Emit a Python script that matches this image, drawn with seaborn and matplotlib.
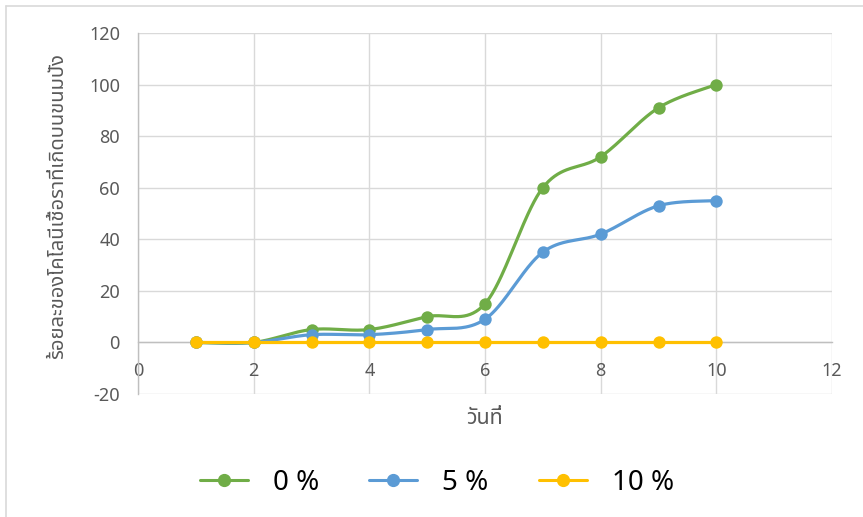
import numpy as np
import pandas as pd
import matplotlib
matplotlib.use("Agg")
import matplotlib.pyplot as plt
import seaborn as sns
from matplotlib import font_manager
from matplotlib.ft2font import FT2Font
from matplotlib.lines import Line2D

# ---- data -------------------------------------------------------------
days = [1, 2, 3, 4, 5, 6, 7, 8, 9, 10]
pct_0 = [0, 0, 5, 5, 10, 15, 60, 72, 91, 100]
pct_5 = [0, 0, 3, 3, 5, 9, 35, 42, 53, 55]
pct_10 = [0, 0, 0, 0, 0, 0, 0, 0, 0, 0]
series_labels = ["0 %", "5 %", "10 %"]
series_colors = ["#70AD47", "#5B9BD5", "#FFC000"]
x_ticks = [0, 2, 4, 6, 8, 10, 12]
y_ticks = [-20, 0, 20, 40, 60, 80, 100, 120]
y_title = "ร้อยละของโคโลนีเชื้อราที่เกิดบนขนมปัง"
x_title = "วันที่"


def thai_family():
    """Return the name of an installed family that has Thai glyphs."""
    preferred = ["Noto Sans Thai", "Noto Sans Thai UI", "Leelawadee UI", "Tahoma",
                 "Loma", "Garuda", "Waree", "Sawasdee", "Umpush", "Kinnari", "Norasi"]
    found = {}
    for f in font_manager.fontManager.ttflist:
        if f.name in found:
            continue
        try:
            if FT2Font(f.fname).get_char_index(0x0E27):
                found[f.name] = True
        except Exception:
            pass
    for name in preferred:
        if name in found:
            return name
    return next(iter(found), "DejaVu Sans")


def smooth_curve(xs, ys, n=40):
    """Cubic Bezier smoothing through every point (spreadsheet style)."""
    p = np.column_stack([xs, ys]).astype(float)
    ext = np.vstack([p[0], p, p[-1]])
    t = np.linspace(0, 1, n)[:, None]
    parts = []
    for i in range(len(p) - 1):
        p0, p1, p2, p3 = ext[i], ext[i + 1], ext[i + 2], ext[i + 3]
        c1 = p1 + (p2 - p0) / 6.0
        c2 = p2 - (p3 - p1) / 6.0
        seg = (1 - t) ** 3 * p1 + 3 * (1 - t) ** 2 * t * c1 + 3 * (1 - t) * t ** 2 * c2 + t ** 3 * p2
        parts.append(seg if i == 0 else seg[1:])
    return np.vstack(parts)


sns.set_style("white")
num_font = "Noto Sans"
thai_font = thai_family()
plt.rcParams["font.family"] = [num_font, thai_font, "DejaVu Sans"]
plt.rcParams["axes.unicode_minus"] = False

W, H = 863, 517
fig = plt.figure(figsize=(W / 100, H / 100), dpi=100)
ax = fig.add_axes([138 / W, 1 - 394 / H, (832 - 138) / W, (394 - 33) / H])

df = pd.DataFrame({
    "day": days * 3,
    "value": pct_0 + pct_5 + pct_10,
    "series": [series_labels[0]] * len(days) + [series_labels[1]] * len(days) + [series_labels[2]] * len(days),
})

for k, (label, color) in enumerate(zip(series_labels, series_colors)):
    sub = df[df["series"] == label]
    curve = smooth_curve(sub["day"].values, sub["value"].values)
    sns.lineplot(x=curve[:, 0], y=curve[:, 1], sort=False, estimator=None,
                 color=color, linewidth=2.3, ax=ax, zorder=3 + k * 2)
    sns.scatterplot(data=sub, x="day", y="value", color=color, s=80,
                    edgecolor=color, linewidth=0, ax=ax, zorder=4 + k * 2, legend=False)

ax.set_xlim(0, 12)
ax.set_ylim(-20, 120)
ax.set_xticks(x_ticks)
ax.set_yticks(y_ticks)
ax.set_xlabel("")
ax.set_ylabel("")
ax.grid(True, color="#D9D9D9", linewidth=1.0, zorder=0)
ax.set_axisbelow(True)
for side in ("top", "right"):
    ax.spines[side].set_visible(False)
ax.spines["left"].set_color("#BFBFBF")
ax.spines["left"].set_linewidth(1.0)
ax.spines["bottom"].set_position(("data", 0))
ax.spines["bottom"].set_color("#BFBFBF")
ax.spines["bottom"].set_linewidth(1.0)
ax.spines["bottom"].set_zorder(2)
ax.tick_params(axis="both", length=0, labelsize=13, labelcolor="#595959")
ax.tick_params(axis="y", pad=13)
ax.tick_params(axis="x", pad=14)

fig.text(58 / W, 1 - 206 / H, y_title, rotation=90, ha="center", va="center",
         fontsize=14.5, color="#595959", family=[thai_font, "DejaVu Sans"])
fig.text(485 / W, 1 - 418 / H, x_title, ha="center", va="center",
         fontsize=15.5, color="#595959", family=[thai_font, "DejaVu Sans"])

handles = [Line2D([0], [0], color=c, linewidth=2.2, marker="o", markersize=8.5)
           for c in series_colors]
fig.legend(handles, series_labels, loc="center", bbox_to_anchor=(437 / W, 1 - 483 / H),
           ncol=3, frameon=False, fontsize=20, handlelength=1.73, handletextpad=0.9,
           columnspacing=1.8, labelcolor="#000000")

# chart-area outline along the top and left edges
border = dict(color="#D9D9D9", linewidth=1.2, transform=fig.transFigure)
fig.add_artist(Line2D([6 / W, 1], [1 - 6 / H, 1 - 6 / H], **border))
fig.add_artist(Line2D([6 / W, 6 / W], [0, 1 - 6 / H], **border))

fig.savefig("out.png", dpi=100)
